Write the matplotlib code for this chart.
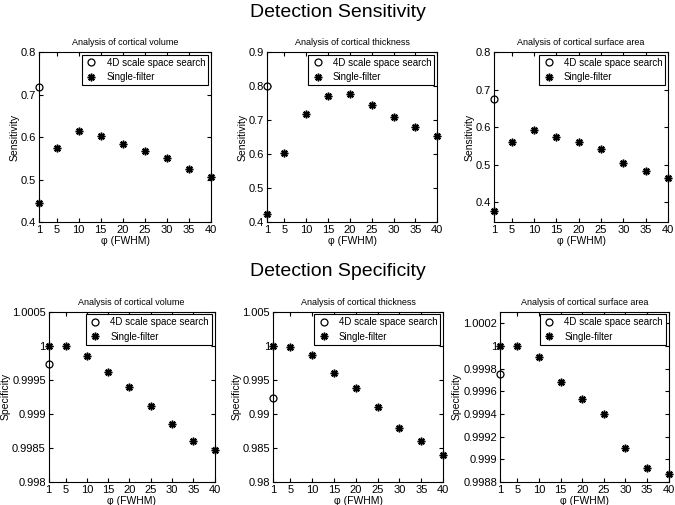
import numpy as np
import matplotlib
matplotlib.use('Agg')
import matplotlib.pyplot as plt

plt.rcParams['font.family'] = ['Liberation Sans', 'DejaVu Sans']

fwhm = [1, 5, 10, 15, 20, 25, 30, 35, 40]
xticks = [1, 5, 10, 15, 20, 25, 30, 35, 40]

# sensitivity
sens_vol_4d = 0.717
sens_vol = [0.445, 0.573, 0.614, 0.603, 0.583, 0.568, 0.551, 0.524, 0.505]
sens_thk_4d = 0.799
sens_thk = [0.424, 0.604, 0.718, 0.771, 0.777, 0.745, 0.710, 0.680, 0.653]
sens_sur_4d = 0.674
sens_sur = [0.376, 0.561, 0.592, 0.574, 0.560, 0.542, 0.505, 0.484, 0.466]

# specificity
spec_vol_4d = 0.999725
spec_vol = [1.0, 1.0, 0.99985, 0.99962, 0.99940, 0.99912, 0.99885, 0.99860, 0.99847]
spec_thk_4d = 0.99238
spec_thk = [1.0, 0.99985, 0.99858, 0.99595, 0.99380, 0.99106, 0.98790, 0.98605, 0.98400]
spec_sur_4d = 0.99975
spec_sur = [1.0, 1.0, 0.99990, 0.99968, 0.99953, 0.99940, 0.99910, 0.99892, 0.99887]

titles = ['Analysis of cortical volume', 'Analysis of cortical thickness',
          'Analysis of cortical surface area']

panels = [
    # rect, 4d value, single values, ylim, yticks, yticklabels, ylabel, title
    ([0.0578, 0.5604, 0.2548, 0.3366], sens_vol_4d, sens_vol, (0.4, 0.8),
     [0.4, 0.5, 0.6, 0.7, 0.8], ['0.4', '0.5', '0.6', '0.7', '0.8'], 'Sensitivity', titles[0]),
    ([0.3956, 0.5604, 0.2520, 0.3366], sens_thk_4d, sens_thk, (0.4, 0.9),
     [0.4, 0.5, 0.6, 0.7, 0.8, 0.9], ['0.4', '0.5', '0.6', '0.7', '0.8', '0.9'], 'Sensitivity', titles[1]),
    ([0.7319, 0.5604, 0.2578, 0.3366], sens_sur_4d, sens_sur, (0.348, 0.8),
     [0.4, 0.5, 0.6, 0.7, 0.8], ['0.4', '0.5', '0.6', '0.7', '0.8'], 'Sensitivity', titles[2]),
    ([0.0720, 0.0455, 0.2460, 0.3376], spec_vol_4d, spec_vol, (0.998, 1.0005),
     [0.998, 0.9985, 0.999, 0.9995, 1.0, 1.0005],
     ['0.998', '0.9985', '0.999', '0.9995', '1', '1.0005'], 'Specificity', titles[0]),
    ([0.4044, 0.0455, 0.2520, 0.3376], spec_thk_4d, spec_thk, (0.98, 1.005),
     [0.98, 0.985, 0.99, 0.995, 1.0, 1.005],
     ['0.98', '0.985', '0.99', '0.995', '1', '1.005'], 'Specificity', titles[1]),
    ([0.7407, 0.0455, 0.2500, 0.3376], spec_sur_4d, spec_sur, (0.9988, 1.000305),
     [0.9988, 0.999, 0.9992, 0.9994, 0.9996, 0.9998, 1.0, 1.0002],
     ['0.9988', '0.999', '0.9992', '0.9994', '0.9996', '0.9998', '1', '1.0002'], 'Specificity', titles[2]),
]

fig = plt.figure(figsize=(6.75, 5.05), dpi=100)

axes = []
for rect, v4d, vals, ylim, yt, ytl, ylab, ttl in panels:
    ax = fig.add_axes(rect)
    ax.plot([fwhm[0]], [v4d], linestyle='none', marker='o', markersize=5,
            markerfacecolor='white', markeredgecolor='black', markeredgewidth=0.9,
            label='4D scale space search', clip_on=False)
    ax.plot(fwhm, vals, linestyle='none', marker=(8, 2, 0), markersize=5.5,
            color='black', markeredgewidth=1.1, label='Single-filter', clip_on=False)
    ax.set_xlim(1, 40)
    ax.set_ylim(*ylim)
    ax.set_xticks(xticks)
    ax.set_yticks(yt)
    ax.set_yticklabels(ytl)
    ax.tick_params(direction='in', top=True, right=True, labelsize=8, length=3, pad=2)
    ax.set_xlabel('φ (FWHM)', fontsize=7.5, labelpad=1)
    ax.set_ylabel(ylab, fontsize=7.5, labelpad=1)
    ax.set_title(ttl, fontsize=6.5, pad=5)
    leg = ax.legend(loc='upper right', fontsize=7, fancybox=False, framealpha=1,
                    edgecolor='black', borderaxespad=0.3, handletextpad=0.9,
                    borderpad=0.3, labelspacing=0.45, handlelength=1.3)
    leg.get_frame().set_linewidth(0.8)
    axes.append(ax)

fig.text(0.5, 0.975, 'Detection Sensitivity', ha='center', va='center', fontsize=14)
fig.text(0.5, 0.462, 'Detection Specificity', ha='center', va='center', fontsize=14)

plt.savefig('out.png', dpi=100)
